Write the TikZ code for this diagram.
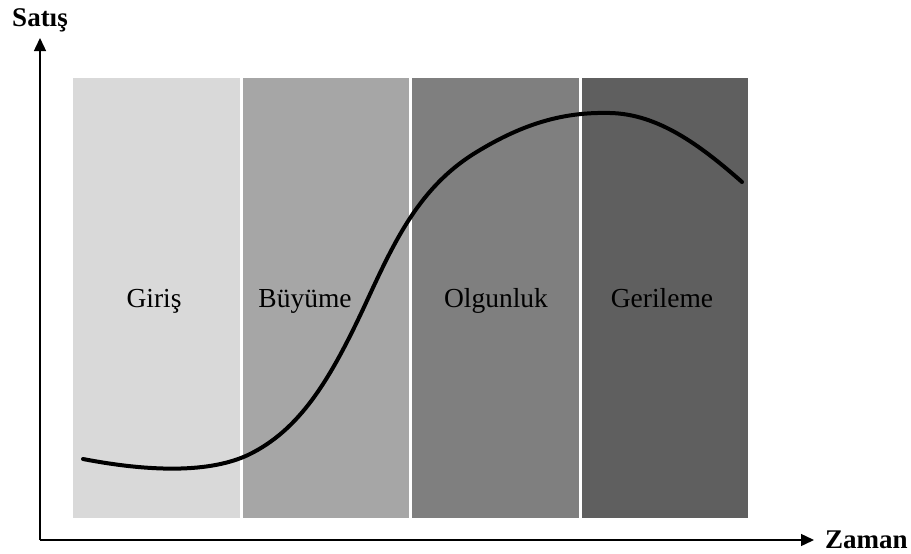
\documentclass[tikz,border=0pt]{standalone}
\usepackage{fontspec}
\setmainfont{Liberation Serif}
\usetikzlibrary{arrows.meta}

\definecolor{phaseA}{HTML}{D9D9D9}
\definecolor{phaseB}{HTML}{A6A6A6}
\definecolor{phaseC}{HTML}{7F7F7F}
\definecolor{phaseD}{HTML}{5F5F5F}

\tikzset{
  axis/.style={line width=1.4pt, -{Triangle[length=13pt,width=12pt]}},
  stagelabel/.style={anchor=base, font=\fontsize{27.5}{32}\selectfont, text=black, inner sep=0pt},
  axislabel/.style={font=\bfseries\fontsize{27}{32}\selectfont, inner sep=0pt},
  salescurve/.style={line width=4pt, line cap=round, black}
}

\begin{document}
\begin{tikzpicture}[x=1pt,y=-1pt]
  \useasboundingbox (0,0) rectangle (911,554);

  % life-cycle phases
  \fill[phaseA] (73,78)  rectangle (240,518);
  \fill[phaseB] (243,78) rectangle (409,518);
  \fill[phaseC] (412,78) rectangle (579,518);
  \fill[phaseD] (582,78) rectangle (748,518);

  \node[stagelabel] (giris)    at (154,307) {Giriş};
  \node[stagelabel] (buyume)   at (305,307) {Büyüme};
  \node[stagelabel] (olgunluk) at (496,307) {Olgunluk};
  \node[stagelabel] (gerileme) at (662,307) {Gerileme};

  % axes
  \coordinate (origin) at (40,540);
  \coordinate (ytip) at (40,38);
  \coordinate (xtip) at (814,540);
  \draw[axis] (origin) -- (ytip);
  \draw[axis] (origin) -- (xtip);
  \node[axislabel, anchor=base] (satis) at (40,27) {Satış};
  \node[axislabel, anchor=base west] (zaman) at (825,548) {Zaman};

  % sales curve
  \draw[salescurve]
    (83,459) .. controls (140,470) and (205,475) .. (248,455)
             .. controls (300,430) and (330,380) .. (365,305)
             .. controls (395,240) and (420,185) .. (480,150)
             .. controls (530,120) and (570,112) .. (610,113)
             .. controls (658,114) and (700,145) .. (742,182);
\end{tikzpicture}
\end{document}
